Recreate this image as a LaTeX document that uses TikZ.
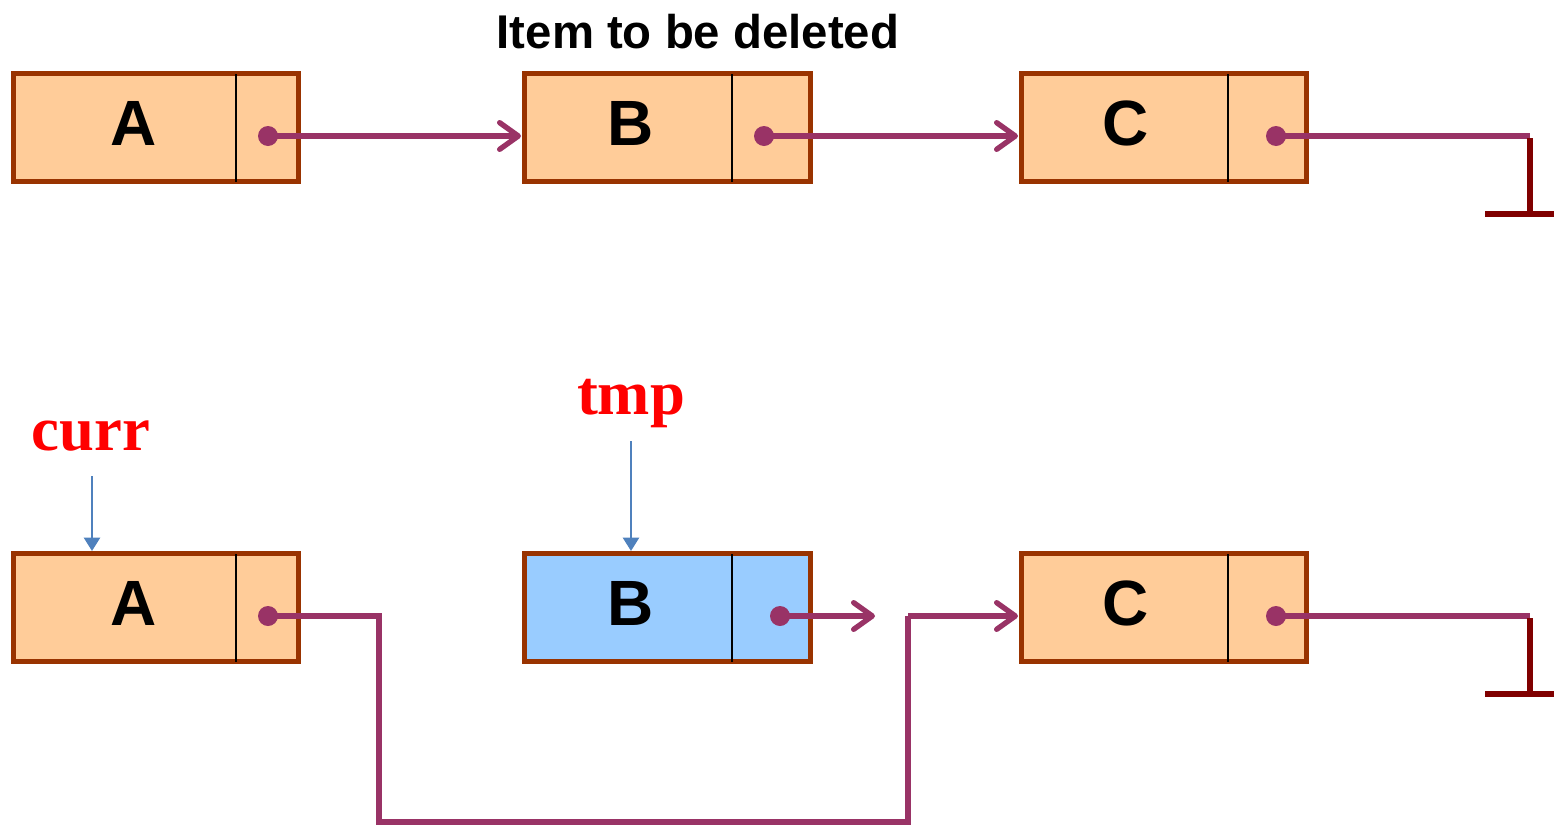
\documentclass[tikz,border=0pt]{standalone}
\usepackage{fontspec}
\setmainfont{Liberation Serif}
\setsansfont{Liberation Sans}
\usetikzlibrary{arrows.meta}
\definecolor{boxfill}{HTML}{FFCC99}
\definecolor{boxedge}{HTML}{993300}
\definecolor{linkcol}{HTML}{993366}
\definecolor{groundcol}{HTML}{800000}
\definecolor{delfill}{HTML}{99CCFF}
\definecolor{ptrcol}{HTML}{4F81BD}
\definecolor{labred}{HTML}{FF0000}
\begin{document}
\begin{tikzpicture}[x=0.75pt,y=-0.75pt,
  listbox/.style={draw=boxedge, fill=boxfill, line width=3.75pt, minimum width=214pt, minimum height=81.5pt, inner sep=0pt, outer sep=0pt},
  delbox/.style={listbox, fill=delfill},
  divider/.style={draw=black, line width=1.5pt},
  letter/.style={font=\sffamily\bfseries\fontsize{48pt}{48pt}\selectfont, inner sep=0pt},
  link/.style={draw=linkcol, line width=4pt, -{Straight Barb[length=14pt,width=20pt,line width=4pt,round]}},
  plainlink/.style={draw=linkcol, line width=4pt},
  ground/.style={draw=groundcol, line width=4pt},
  dot/.style={fill=linkcol},
  ptr/.style={draw=ptrcol, line width=1.8pt, -{Triangle[length=10pt,width=12pt]}},
  redlab/.style={text=labred, font=\rmfamily\bfseries\fontsize{47pt}{47pt}\selectfont, inner sep=0pt, anchor=base},
  title/.style={font=\sffamily\bfseries\fontsize{35.5pt}{35.5pt}\selectfont, inner sep=0pt, anchor=base}
]
\useasboundingbox (0,0) rectangle (1554,825);

% ---------- top row ----------
\node[listbox] (A1) at (156,127.5) {};
\node[listbox] (B1) at (667.5,127.5) {};
\node[listbox] (C1) at (1164,127.5) {};
\draw[divider] (236,74) -- (236,182);
\draw[divider] (732,74) -- (732,182);
\draw[divider] (1228,74) -- (1228,182);
\node[letter] (lA1) at (134,123) {A};
\node[letter] (lB1) at (631,123) {B};
\node[letter] (lC1) at (1126,123) {C};
\node[title] (ttl) at (698,48) {Item to be deleted};

\coordinate (dA1) at (268,136);
\coordinate (dB1) at (764,136);
\coordinate (dC1) at (1276,136);
\coordinate (inB1) at (521,136);
\coordinate (inC1) at (1018,136);
\coordinate (g1) at (1530,136);
\coordinate (g1b) at (1530,214);
\coordinate (g1l) at (1485,214);
\coordinate (g1r) at (1554,214);

\draw[link] (dA1) -- (inB1);
\draw[link] (dB1) -- (inC1);
\draw[plainlink] (dC1) -- (g1);
\draw[ground] (1530,138) -- (g1b);
\draw[ground] (g1l) -- (g1r);
\fill[dot] (dA1) circle (7.5pt);
\fill[dot] (dB1) circle (7.5pt);
\fill[dot] (dC1) circle (7.5pt);

% ---------- bottom row ----------
\node[listbox] (A2) at (156,607.5) {};
\node[delbox] (B2) at (667.5,607.5) {};
\node[listbox] (C2) at (1164,607.5) {};
\draw[divider] (236,554) -- (236,662);
\draw[divider] (732,554) -- (732,662);
\draw[divider] (1228,554) -- (1228,662);
\node[letter] (lA2) at (134,603) {A};
\node[letter] (lB2) at (631,603) {B};
\node[letter] (lC2) at (1126,603) {C};

\node[redlab] (curr) at (91,450) {curr};
\node[redlab] (tmp) at (631,414) {tmp};
\coordinate (currS) at (92,476);
\coordinate (currE) at (92,551);
\coordinate (tmpS) at (631,441);
\coordinate (tmpE) at (631,551);
\draw[ptr] (currS) -- (currE);
\draw[ptr] (tmpS) -- (tmpE);

\coordinate (dA2) at (268,616);
\coordinate (dB2) at (780,616);
\coordinate (dC2) at (1276,616);
\coordinate (endB2) at (875,616);
\coordinate (inC2) at (1018,616);
\coordinate (k1) at (379,616);
\coordinate (k2) at (379,822);
\coordinate (k3) at (908,822);
\coordinate (k4) at (908,616);
\coordinate (g2) at (1530,616);
\coordinate (g2b) at (1530,694);
\coordinate (g2l) at (1485,694);
\coordinate (g2r) at (1554,694);

\draw[plainlink] (dA2) -- (k1) -- (k2) -- (k3) -- (k4);
\draw[link] (k4) -- (inC2);
\draw[link] (dB2) -- (endB2);
\draw[plainlink] (dC2) -- (g2);
\draw[ground] (1530,618) -- (g2b);
\draw[ground] (g2l) -- (g2r);
\fill[dot] (dA2) circle (7.5pt);
\fill[dot] (dB2) circle (7.5pt);
\fill[dot] (dC2) circle (7.5pt);
\end{tikzpicture}
\end{document}
